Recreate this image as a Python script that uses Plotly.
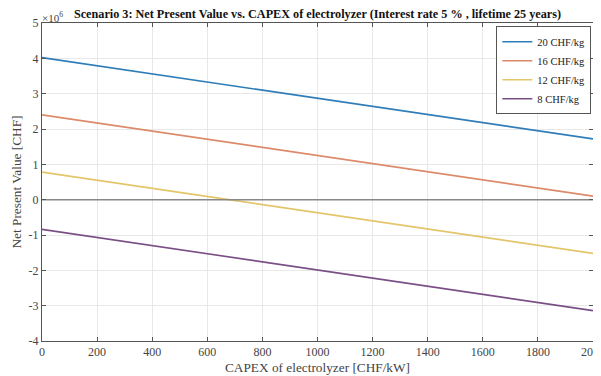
import plotly.graph_objects as go

capex = [0, 500, 1000, 1500, 2000]
series_names = ["20 CHF/kg", "16 CHF/kg", "12 CHF/kg", "8 CHF/kg"]
npv_20 = [4.02e6, 3.445e6, 2.87e6, 2.295e6, 1.72e6]
npv_16 = [2.40e6, 1.825e6, 1.25e6, 0.675e6, 0.10e6]
npv_12 = [0.78e6, 0.205e6, -0.37e6, -0.945e6, -1.52e6]
npv_8 = [-0.84e6, -1.415e6, -1.99e6, -2.565e6, -3.14e6]
colors = ["#2f7db8", "#dc8a6a", "#e3c56a", "#7a4f86"]
y_ticks = [-4e6, -3e6, -2e6, -1e6, 0, 1e6, 2e6, 3e6, 4e6, 5e6]
y_tick_labels = ["-4", "-3", "-2", "-1", "0", "1", "2", "3", "4", "5"]
x_ticks = [0, 200, 400, 600, 800, 1000, 1200, 1400, 1600, 1800, 2000]

font = "Liberation Serif"
fig = go.Figure()
for name, vals, c in zip(series_names, [npv_20, npv_16, npv_12, npv_8], colors):
    fig.add_trace(go.Scatter(x=capex, y=vals, mode="lines", name=name,
                             line=dict(color=c, width=1.6)))
# zero line
fig.add_trace(go.Scatter(x=[capex[0], capex[-1]], y=[0, 0], mode="lines",
                         line=dict(color="#888888", width=1.5), showlegend=False,
                         hoverinfo="skip"))

axis_common = dict(showline=True, linecolor="#555555", linewidth=1, mirror="ticks",
                   ticks="inside", ticklen=4, tickcolor="#555555",
                   showgrid=True, gridcolor="#e8e8e8", gridwidth=1, zeroline=False,
                   automargin=False, ticklabeloverflow="allow",
                   tickfont=dict(family=font, size=12, color="#444444"))
fig.update_layout(
    width=593, height=368,
    margin=dict(l=34, r=8, t=15, b=35, autoexpand=False),
    paper_bgcolor="white", plot_bgcolor="white",
    font=dict(family=font, color="#222222"),
    title=dict(text="<b>Scenario 3: Net Present Value vs. CAPEX of electrolyzer (Interest rate 5 % , lifetime 25 years)</b>",
               font=dict(family=font, size=12.2, color="#111111"),
               x=0.5, xref="paper", xanchor="center", y=0.985, yanchor="middle", automargin=False),
    xaxis=dict(range=[0, 2000], tickvals=x_ticks, **axis_common),
    yaxis=dict(range=[-4e6, 5e6], tickvals=y_ticks, ticktext=y_tick_labels,
               title=dict(text="Net Present Value [CHF]", font=dict(family=font, size=13.3, color="#444444"), standoff=3),
               **axis_common),
    legend=dict(x=0.997, y=0.99, xanchor="right", yanchor="top",
                bordercolor="#555555", borderwidth=1, bgcolor="white",
                font=dict(family=font, size=10.5, color="#222222"),
                tracegroupgap=0, itemwidth=30),
    showlegend=True,
)
fig.add_annotation(text="CAPEX of electrolyzer [CHF/kW]", xref="paper", yref="paper", x=0.5, y=0,
                   xanchor="center", yanchor="middle", yshift=-26, showarrow=False,
                   font=dict(family=font, size=13.3, color="#444444"))
fig.add_annotation(text="×10<sup>6</sup>", xref="paper", yref="paper", x=0.0, y=1.0,
                   xanchor="left", yanchor="bottom", showarrow=False,
                   font=dict(family=font, size=11, color="#444444"), xshift=-2, yshift=-3)
fig.write_html("out.html")
